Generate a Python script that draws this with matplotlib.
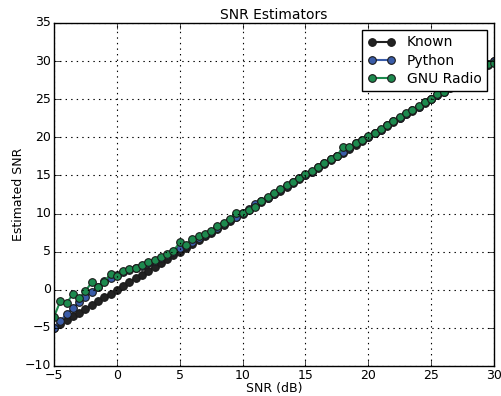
import matplotlib
matplotlib.use("Agg")
import matplotlib.pyplot as plt

plt.style.use("classic")
plt.rcParams["font.family"] = ["DejaVu Sans"]

snr_db = [-5.0, -4.5, -4.0, -3.5, -3.0, -2.5, -2.0, -1.5, -1.0, -0.5,
          0.0, 0.5, 1.0, 1.5, 2.0, 2.5, 3.0, 3.5, 4.0, 4.5,
          5.0, 5.5, 6.0, 6.5, 7.0, 7.5, 8.0, 8.5, 9.0, 9.5,
          10.0, 10.5, 11.0, 11.5, 12.0, 12.5, 13.0, 13.5, 14.0, 14.5,
          15.0, 15.5, 16.0, 16.5, 17.0, 17.5, 18.0, 18.5, 19.0, 19.5,
          20.0, 20.5, 21.0, 21.5, 22.0, 22.5, 23.0, 23.5, 24.0, 24.5,
          25.0, 25.5, 26.0, 26.5, 27.0, 27.5, 28.0, 28.5, 29.0, 29.5, 30.0]

known = list(snr_db)

python_est = [-5.0, -4.1, -3.2, -2.4, -1.6, -0.9, -0.3, 0.35, 1.1, 1.5,
              1.9, 2.3, 2.6, 2.8, 3.1, 3.5, 3.8, 4.15, 4.5, 4.9,
              5.5, 5.8, 6.3, 6.8, 7.2, 7.6, 8.1, 8.6, 9.1, 9.5,
              10.1, 10.6, 11.2, 11.6, 12.1, 12.6, 13.1, 13.6, 14.1, 14.6,
              15.1, 15.5, 16.1, 16.6, 17.1, 17.5, 18.1, 18.6, 19.2, 19.6,
              20.1, 20.6, 21.0, 21.6, 22.1, 22.5, 23.1, 23.6, 24.0, 24.6,
              25.0, 25.5, 26.1, 26.6, 27.0, 27.5, 28.1, 28.5, 29.1, 29.6, 30.0]

gnuradio_est = [-3.55, -1.5, -1.75, -0.6, -1.1, -0.2, 1.0, 0.4, 1.05, 2.1,
                1.8, 2.4, 2.7, 2.8, 3.25, 3.6, 3.9, 4.25, 4.65, 5.1,
                6.2, 5.85, 6.7, 7.05, 7.3, 7.7, 8.3, 8.7, 9.3, 10.1,
                10.1, 10.5, 10.9, 11.7, 12.2, 12.7, 13.2, 13.7, 14.1, 14.6,
                15.2, 15.6, 16.1, 16.6, 17.1, 17.6, 18.7, 18.7, 19.2, 19.7,
                20.2, 20.6, 21.1, 21.6, 22.1, 22.6, 23.2, 23.6, 24.1, 24.6,
                25.0, 25.7, 25.9, 26.6, 27.1, 27.6, 28.1, 28.6, 29.1, 29.6, 29.8]

fig = plt.figure(figsize=(5.02, 3.96), dpi=100, facecolor="white")
ax = fig.add_axes([0.1076, 0.0758, 0.8765, 0.8662])
ax.set_facecolor("white")

mk = dict(marker="o", markersize=5.5, markeredgewidth=0.8, markeredgecolor="#1a1a1a", linewidth=1.5)
ax.plot(snr_db, known, color="#222222", markerfacecolor="#222222", label="Known", **mk)
ax.plot(snr_db, python_est, color="#3a5ca8", markerfacecolor="#3a5ca8", label="Python", **mk)
ax.plot(snr_db, gnuradio_est, color="#1d8a4e", markerfacecolor="#1d8a4e", label="GNU Radio", **mk)

ax.set_xlim(-5, 30)
ax.set_ylim(-10, 35)
ax.set_xticks(range(-5, 31, 5))
ax.set_yticks(range(-10, 36, 5))
ax.grid(True, linestyle=":", color="black", linewidth=0.8)
ax.tick_params(labelsize=9, direction="in", pad=2)
ax.set_xlabel("SNR (dB)", fontsize=9, labelpad=0)
ax.set_ylabel("Estimated SNR", fontsize=9, labelpad=0)
ax.set_title("SNR Estimators", fontsize=10, pad=3)
leg = ax.legend(loc="upper right", fontsize=10, numpoints=2, fancybox=False,
                borderpad=0.4, labelspacing=0.3, handlelength=2.0)
leg.get_frame().set_edgecolor("black")

fig.savefig("out.png", dpi=100, facecolor="white")
